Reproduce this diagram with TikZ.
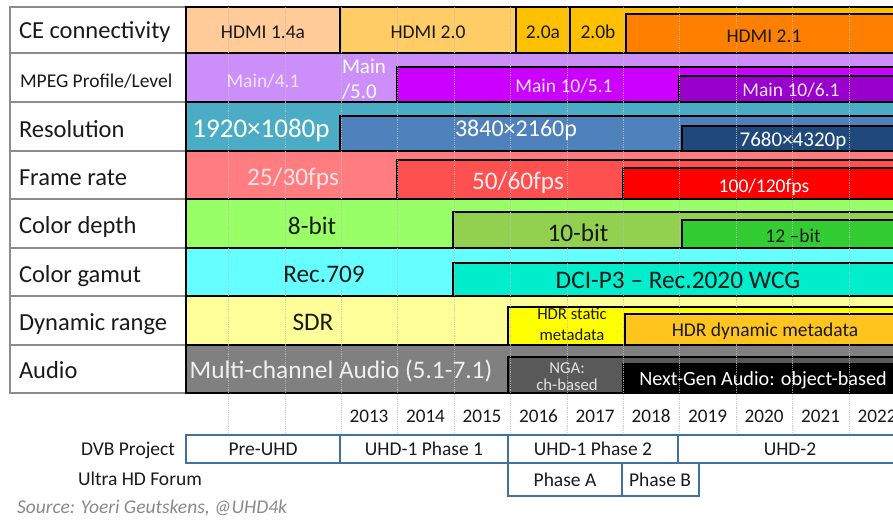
\documentclass[tikz,border=0pt]{standalone}
\usepackage{fontspec}
\setmainfont{Carlito}
% bar colours
\definecolor{hdmiA}{HTML}{FFCC99}
\definecolor{hdmiB}{HTML}{FFCC66}
\definecolor{hdmiC}{HTML}{FFC000}
\definecolor{hdmiD}{HTML}{FF8000}
\definecolor{mpegA}{HTML}{CC8FFA}
\definecolor{mpegB}{HTML}{CC00FF}
\definecolor{mpegC}{HTML}{9900CC}
\definecolor{resA}{HTML}{4BACC6}
\definecolor{resB}{HTML}{4F81BD}
\definecolor{resC}{HTML}{1F497D}
\definecolor{fpsA}{HTML}{FF7C80}
\definecolor{fpsB}{HTML}{FF5050}
\definecolor{fpsC}{HTML}{FF0000}
\definecolor{bitA}{HTML}{99FF66}
\definecolor{bitB}{HTML}{92D050}
\definecolor{bitC}{HTML}{33CC33}
\definecolor{gamA}{HTML}{66FFFF}
\definecolor{gamB}{HTML}{00EECC}
\definecolor{dynA}{HTML}{FFFF99}
\definecolor{dynB}{HTML}{FFFF00}
\definecolor{dynC}{HTML}{FFC41E}
\definecolor{audA}{HTML}{808080}
\definecolor{audB}{HTML}{595959}
\definecolor{audC}{HTML}{000000}
\definecolor{labgray}{HTML}{8C8C8C}
\definecolor{dvbblue}{HTML}{41719C}
\definecolor{gridcol}{HTML}{BEBEBE}
\definecolor{srcgray}{HTML}{8A8A8A}
\definecolor{txtdark}{HTML}{1A1A1A}
\begin{document}
\begin{tikzpicture}[x=1pt,y=-1pt,
  every node/.style={inner sep=0pt,outer sep=0pt},
  lab/.style={anchor=base west,font=\fontsize{24.5}{26}\selectfont,text=txtdark},
  big/.style={anchor=base,font=\fontsize{25.3}{27}\selectfont},
  mid/.style={anchor=base,font=\fontsize{19.5}{21}\selectfont},
  small/.style={anchor=base,font=\fontsize{16.7}{18}\selectfont},
  bar/.style={draw=black,line width=2.5pt},
  lbox/.style={draw=labgray,line width=2.6pt},
  dvb/.style={draw=dvbblue,line width=2.2pt},
  gridln/.style={draw=gridcol,line width=0.8pt,opacity=0.75,densely dotted}]
\useasboundingbox (0,0) rectangle (893,519);
\fill[white] (0,0) rectangle (893,519);
\begin{scope}
\clip (0,0) rectangle (893,519);

% ---- timeline bars, one row per feature ----
% CE connectivity
\filldraw[bar,fill=hdmiA] (186,7) rectangle (340,53);
\filldraw[bar,fill=hdmiB] (340,7) rectangle (516,53);
\filldraw[bar,fill=hdmiC] (516,7) rectangle (570,53);
\filldraw[bar,fill=hdmiC] (570,7) rectangle (905,53);
\filldraw[bar,fill=hdmiD] (626,14) rectangle (905,53);
% MPEG profile / level
\filldraw[bar,fill=mpegA] (186,53) rectangle (905,102);
\filldraw[bar,fill=mpegB] (397,67) rectangle (905,102);
\filldraw[bar,fill=mpegC] (679,76) rectangle (905,102);
% Resolution
\filldraw[bar,fill=resA] (186,102) rectangle (905,151);
\filldraw[bar,fill=resB] (340,116) rectangle (905,151);
\filldraw[bar,fill=resC] (682,126) rectangle (905,151);
% Frame rate
\filldraw[bar,fill=fpsA] (186,151) rectangle (905,199);
\filldraw[bar,fill=fpsB] (397,160) rectangle (905,199);
\filldraw[bar,fill=fpsC] (623,168) rectangle (905,199);
% Colour depth
\filldraw[bar,fill=bitA] (186,199) rectangle (905,248);
\filldraw[bar,fill=bitB] (453,212) rectangle (905,248);
\filldraw[bar,fill=bitC] (682,220) rectangle (905,248);
% Colour gamut
\filldraw[bar,fill=gamA] (186,248) rectangle (905,296);
\filldraw[bar,fill=gamB] (453,263) rectangle (905,296);
% Dynamic range
\filldraw[bar,fill=dynA] (186,296) rectangle (905,345);
\filldraw[bar,fill=dynB] (508,307) rectangle (905,345);
\filldraw[bar,fill=dynC] (625,314) rectangle (905,345);
% Audio
\filldraw[bar,fill=audA] (186,345) rectangle (905,393);
\filldraw[bar,fill=audB] (508,357) rectangle (905,393);
\filldraw[bar,fill=audC] (623,364) rectangle (905,393);

% year grid
\foreach \gx in {228,285,341,397,454,510,567,623,679,736,792,849}
  \draw[gridln] (\gx,7) -- (\gx,433);

% ---- row label table ----
\filldraw[lbox,fill=white] (10,7) rectangle (186,393);
\foreach \ry in {53,102,151,199,248,296,345}
  \draw[lbox] (10,\ry) -- (186,\ry);
\draw[black,line width=2.6pt] (186,5.8) -- (186,394.2);

\node[lab] (l-ce)  at (19,39)  {CE connectivity};
\node[lab,font=\fontsize{19.5}{21}\selectfont] (l-mpeg) at (20,87) {MPEG Profile/Level};
\node[lab] (l-res) at (19,137) {Resolution};
\node[lab] (l-fps) at (19,185) {Frame rate};
\node[lab] (l-bit) at (19,233) {Color depth};
\node[lab] (l-gam) at (19,282) {Color gamut};
\node[lab] (l-dyn) at (19,330) {Dynamic range};
\node[lab] (l-aud) at (19,378) {Audio};

% ---- bar texts ----
\node[mid,text=txtdark] (t-h14)  at (263,38) {HDMI 1.4a};
\node[mid,text=txtdark] (t-h20)  at (428,38) {HDMI 2.0};
\node[mid,text=txtdark] (t-h20a) at (543,38) {2.0a};
\node[mid,text=txtdark] (t-h20b) at (598,38) {2.0b};
\node[mid,text=txtdark] (t-h21)  at (764,42) {HDMI 2.1};

\node[mid,text={rgb,255:red,242;green,228;blue,255}] (t-m41) at (263,87) {Main/4.1};
\node[anchor=base west,font=\fontsize{21}{23}\selectfont,text=white] (t-m50a) at (342,74) {Main};
\node[anchor=base west,font=\fontsize{21}{23}\selectfont,text=white] (t-m50b) at (342,98) {/5.0};
\node[mid,text={rgb,255:red,250;green,230;blue,255}] (t-m51) at (564,92) {Main 10/5.1};
\node[mid,text={rgb,255:red,245;green,230;blue,255}] (t-m61) at (791,96) {Main 10/6.1};

\node[anchor=base,font=\fontsize{27}{29}\selectfont,text=white] (t-r2k) at (261,137) {1920×1080p};
\node[anchor=base,font=\fontsize{24}{26}\selectfont,text=white] (t-r4k) at (516,136) {3840×2160p};
\node[anchor=base,font=\fontsize{21}{23}\selectfont,text=white] (t-r8k) at (793,146) {7680×4320p};

\node[big,text={rgb,255:red,255;green,228;blue,228}] (t-f30) at (293,185) {25/30fps};
\node[big,text={rgb,255:red,255;green,238;blue,238}] (t-f60) at (518,189) {50/60fps};
\node[mid,text=white] (t-f120) at (764,192) {100/120fps};

\node[big,text=txtdark] (t-b8)  at (312,234) {8-bit};
\node[big,text=txtdark] (t-b10) at (578,241) {10-bit};
\node[mid,text=txtdark] (t-b12) at (793,242) {12 –bit};

\node[big,text=txtdark] (t-g709) at (324,282) {Rec.709};
\node[big,text=txtdark] (t-gwcg) at (678,288) {DCI-P3 – Rec.2020 WCG};

\node[big,text=txtdark] (t-sdr) at (313,330) {SDR};
\node[small,text=txtdark] (t-hs1) at (572,319) {HDR static};
\node[small,text=txtdark] (t-hs2) at (572,340) {metadata};
\node[mid,text=txtdark] (t-hdyn) at (765,336) {HDR dynamic metadata};

\node[big,text={rgb,255:red,240;green,240;blue,240}] (t-mca) at (341,378) {Multi-channel Audio (5.1-7.1)};
\node[small,text={rgb,255:red,225;green,225;blue,225}] (t-nga1) at (567,373) {NGA:};
\node[small,text={rgb,255:red,225;green,225;blue,225}] (t-nga2) at (567,390) {ch-based};
\node[anchor=base,font=\fontsize{20.2}{22}\selectfont,text=white] (t-ngo) at (763,385) {Next-Gen Audio: object-based};

% ---- years ----
\foreach \yr/\cx in {2013/369,2014/425.5,2015/482,2016/538.5,2017/595,2018/651,2019/707.5,2020/764,2021/820.5,2022/877}
  \node[anchor=base,font=\fontsize{19.2}{21}\selectfont,text=txtdark] (y\yr) at (\cx,422) {\yr};

% ---- standardisation phases ----
\draw[dvb] (186,435) rectangle (340,463);
\draw[dvb] (340,435) rectangle (508,463);
\draw[dvb] (508,435) rectangle (678,463);
\draw[dvb] (678,435) rectangle (905,463);
\draw[dvb] (508,463) rectangle (622,496);
\draw[dvb] (622,463) rectangle (699,496);

\node[mid,text=txtdark] (p-dvb) at (128,455) {DVB Project};
\node[mid,text=txtdark] (p-pre) at (263,455) {Pre-UHD};
\node[mid,text=txtdark] (p-u11) at (424,455) {UHD-1 Phase 1};
\node[mid,text=txtdark] (p-u12) at (593,455) {UHD-1 Phase 2};
\node[mid,text=txtdark] (p-u2)  at (790,455) {UHD-2};
\node[mid,text=txtdark] (p-uhdf) at (140,485) {Ultra HD Forum};
\node[mid,text=txtdark] (p-pa) at (565,486) {Phase A};
\node[mid,text=txtdark] (p-pb) at (660,486) {Phase B};

\node[anchor=base west,font=\fontsize{19.5}{21}\selectfont\itshape,text=srcgray] (src) at (17,513) {Source: Yoeri Geutskens, @UHD4k};
\end{scope}
\end{tikzpicture}
\end{document}
